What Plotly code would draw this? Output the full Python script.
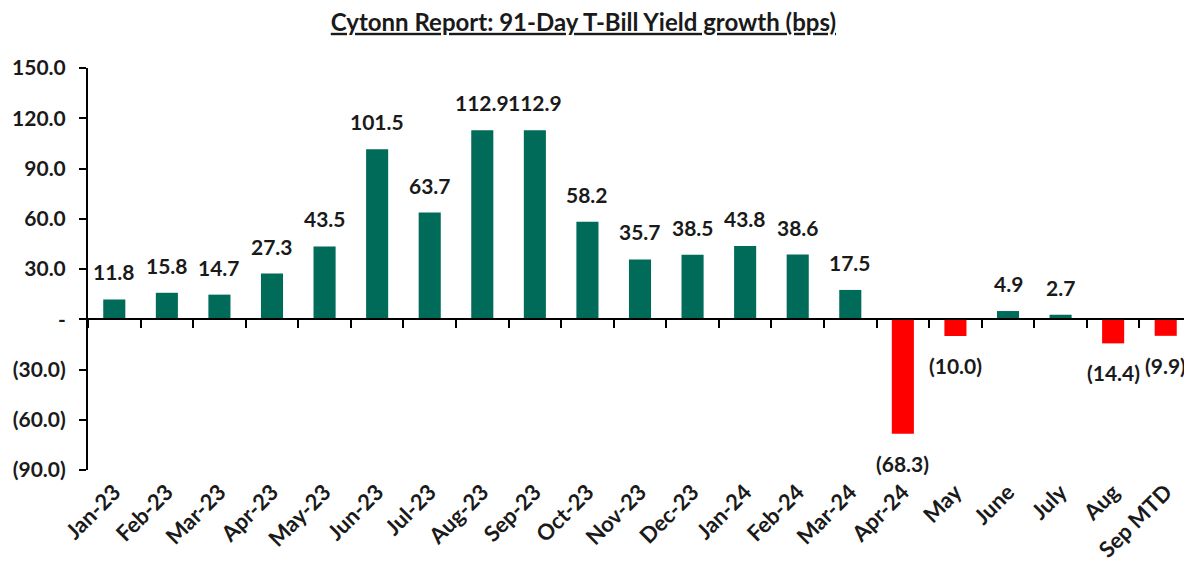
import plotly.graph_objects as go

# data
months = ["Jan-23", "Feb-23", "Mar-23", "Apr-23", "May-23", "Jun-23", "Jul-23",
          "Aug-23", "Sep-23", "Oct-23", "Nov-23", "Dec-23", "Jan-24", "Feb-24",
          "Mar-24", "Apr-24", "May", "June", "July", "Aug", "Sep MTD"]
growth_bps = [11.8, 15.8, 14.7, 27.3, 43.5, 101.5, 63.7, 112.9, 112.9, 58.2,
              35.7, 38.5, 43.8, 38.6, 17.5, -68.3, -10.0, 4.9, 2.7, -14.4, -9.9]
y_ticks = [150, 120, 90, 60, 30, 0, -30, -60, -90]
y_tick_text = ["150.0", "120.0", "90.0", "60.0", "30.0", "-", "(30.0)", "(60.0)", "(90.0)"]

GREEN = "#006B58"
RED = "#FF0000"
FONT = "Lato"
TXT = "#1a1a1a"

def fmt(v):
    return f"{v:.1f}" if v >= 0 else f"({abs(v):.1f})"

colors = [GREEN if v >= 0 else RED for v in growth_bps]
n = len(months)

fig = go.Figure()
fig.add_trace(go.Bar(
    x=months, y=growth_bps, marker_color=colors, marker_line_width=0,
    width=0.42, hoverinfo="x+y", showlegend=False,
))
# invisible trace so the label axis has its categories
fig.add_trace(go.Scatter(
    x=months, y=growth_bps, mode="markers", marker=dict(opacity=0),
    xaxis="x2", hoverinfo="skip", showlegend=False,
))

for m, v in zip(months, growth_bps):
    fig.add_annotation(
        x=m, y=v, text=f"<b>{fmt(v)}</b>", showarrow=False,
        yanchor="bottom" if v >= 0 else "top",
        yshift=13 if v >= 0 else -15,
        font=dict(size=21, color=TXT, family=FONT),
    )

# page body adds an 8px margin, so the figure is 8px smaller than the window
fig.update_layout(
    width=1184, height=554,
    margin=dict(l=80, r=0, t=60, b=92),
    paper_bgcolor="white", plot_bgcolor="white",
    title=dict(
        text="<b><u>Cytonn Report: 91-Day T-Bill Yield growth (bps)</u></b>",
        x=0.486, xanchor="center", y=0.974, yanchor="middle",
        font=dict(size=24, color=TXT, family=FONT),
    ),
    font=dict(family=FONT, color=TXT),
    yaxis=dict(
        range=[-90, 150], tickvals=y_ticks, ticktext=[f"<b>{t}</b>" for t in y_tick_text],
        showgrid=False, zeroline=False, showline=True, linecolor="black", linewidth=2,
        ticks="outside", ticklen=7, tickwidth=2, tickcolor="black", automargin=False,
        tickfont=dict(size=21, family=FONT, color=TXT), ticklabelstandoff=9,
    ),
    xaxis=dict(
        type="category", anchor="free", position=90 / 240, range=[-0.5, n - 0.5],
        showline=True, linecolor="black", linewidth=2, automargin=False,
        ticks="outside", tickson="boundaries", ticklen=8, tickwidth=2, tickcolor="black",
        showticklabels=False, showgrid=False, zeroline=False,
    ),
    xaxis2=dict(
        type="category", overlaying="x", anchor="y", side="bottom", matches="x",
        showline=False, ticks="", showgrid=False, zeroline=False, tickangle=-45,
        automargin=False, tickvals=months, ticktext=[f"<b>{m}</b>" for m in months],
        tickfont=dict(size=22, family=FONT, color=TXT), ticklabelstandoff=4,
    ),
)

fig.write_html("out.html")
